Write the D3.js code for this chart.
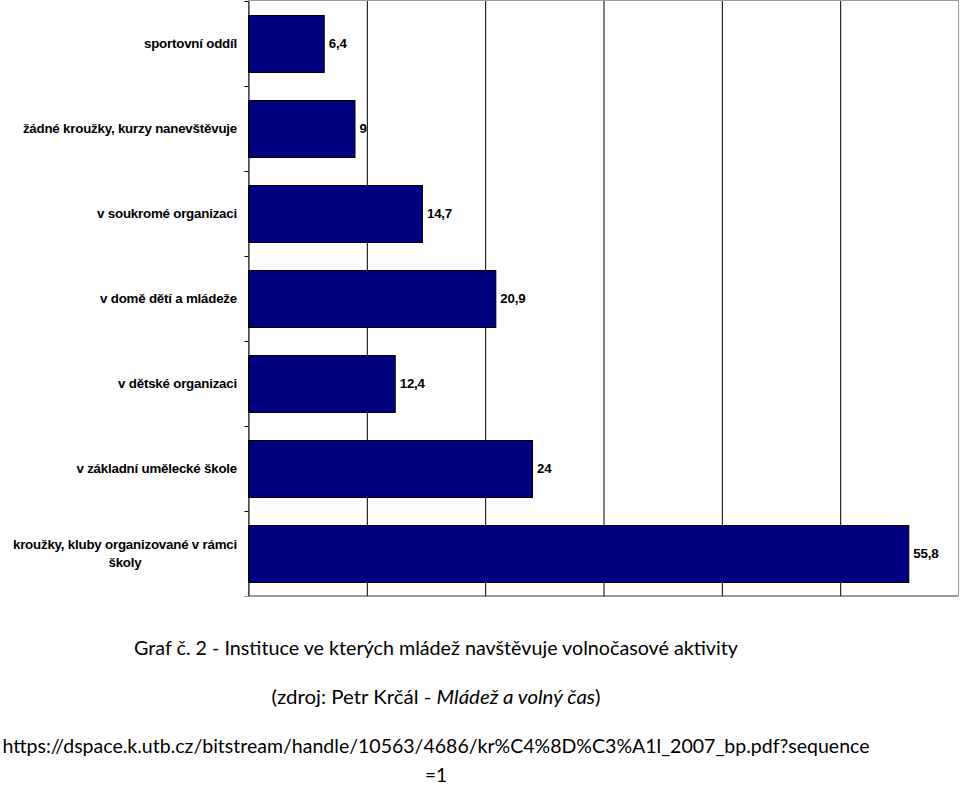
<!DOCTYPE html>
<html>
<head>
<meta charset="utf-8">
<script src="https://cdn.jsdelivr.net/npm/d3@7"></script>
<style>
  html, body { margin: 0; padding: 0; background: #fff; }
  svg { display: block; }
</style>
</head>
<body>
<svg id="chart" width="960" height="785"></svg>
<script>
const categories = [
  ["sportovní oddíl"],
  ["žádné kroužky, kurzy nanevštěvuje"],
  ["v soukromé organizaci"],
  ["v domě dětí a mládeže"],
  ["v dětské organizaci"],
  ["v základní umělecké škole"],
  ["kroužky, kluby organizované v rámci", "školy"]
];
const values = [6.4, 9, 14.7, 20.9, 12.4, 24, 55.8];
const valueLabels = ["6,4", "9", "14,7", "20,9", "12,4", "24", "55,8"];
const xTicks = [0, 10, 20, 30, 40, 50, 60];
const captionTitle = "Graf č. 2 - Instituce ve kterých mládež navštěvuje volnočasové aktivity";
const captionSource = ["(zdroj: Petr Krčál - ", "Mládež a volný čas", ")"];
const captionUrl = ["https://dspace.k.utb.cz/bitstream/handle/10563/4686/kr%C4%8D%C3%A1l_2007_bp.pdf?sequence", "=1"];

(function () {
const svg = d3.select("#chart");
const pl = 248, pr = 958, pt = 1, pb = 596;

const x = d3.scaleLinear().domain([0, 60]).range([pl, pr]);
const keys = categories.map((c, i) => i);
const y = d3.scaleBand().domain(keys).range([pt, pb]).paddingInner(0.33).paddingOuter(0.165);
const yEdge = d3.scaleLinear().domain([0, categories.length]).range([pt, pb]);

// plot border (gray)
svg.append("rect")
  .attr("x", pl + 0.5).attr("y", pt - 0.5)
  .attr("width", pr - pl).attr("height", pb - pt)
  .attr("fill", "none").attr("stroke", "#9a9a9a").attr("stroke-width", 1);

// gridlines
const grid = svg.append("g").attr("transform", `translate(0.5,${pb})`)
  .call(d3.axisBottom(x).tickValues(xTicks.slice(1, -1)).tickSize(-(pb - pt)).tickFormat(""));
grid.select(".domain").remove();
grid.selectAll(".tick line").attr("stroke", "#000").attr("stroke-width", 1);

// bars
svg.append("g").selectAll("rect").data(values).join("rect")
  .attr("x", x(0) + 0.5)
  .attr("y", (d, i) => Math.round(y(i)) + 0.5)
  .attr("width", d => x(d) - x(0))
  .attr("height", Math.round(y.bandwidth()))
  .attr("fill", "#000080")
  .attr("stroke", "#000")
  .attr("stroke-width", 1);

// left axis with ticks at band boundaries
const yAxis = svg.append("g").attr("transform", `translate(${pl + 0.5},0)`)
  .call(d3.axisLeft(yEdge).tickValues(d3.range(categories.length + 1)).tickSize(4).tickFormat("").tickSizeOuter(0));
yAxis.selectAll("path, line").attr("stroke", "#000");

// bottom axis line
svg.append("line")
  .attr("x1", pl - 4).attr("x2", pr)
  .attr("y1", pb + 0.5).attr("y2", pb + 0.5)
  .attr("stroke", "#9a9a9a");

const labFont = "Liberation Sans, Arial, sans-serif";
const labSize = 13.3;
const labSpacing = "-0.2px";

// value labels
svg.append("g").selectAll("text").data(values).join("text")
  .attr("x", d => x(d) + 5)
  .attr("y", (d, i) => y(i) + y.bandwidth() / 2)
  .attr("dy", "0.35em")
  .attr("font-family", labFont)
  .attr("font-weight", "bold")
  .attr("font-size", labSize)
  .attr("letter-spacing", labSpacing)
  .attr("fill", "#000")
  .text((d, i) => valueLabels[i]);

// category labels
const labelRight = 237;
const lineH = 18;
const catG = svg.append("g")
  .attr("font-family", labFont)
  .attr("font-weight", "bold")
  .attr("font-size", labSize)
  .attr("letter-spacing", labSpacing)
  .attr("fill", "#000");
categories.forEach((lines, i) => {
  const cy = y(i) + y.bandwidth() / 2;
  if (lines.length === 1) {
    catG.append("text").attr("x", labelRight).attr("y", cy).attr("dy", "0.35em")
      .attr("text-anchor", "end").text(lines[0]);
  } else {
    const t0 = catG.append("text").text(lines[0]);
    const w = t0.node().getComputedTextLength();
    const cx = labelRight - w / 2;
    t0.remove();
    lines.forEach((ln, j) => {
      catG.append("text").attr("x", cx)
        .attr("y", cy + (j - (lines.length - 1) / 2) * lineH).attr("dy", "0.35em")
        .attr("text-anchor", "middle").text(ln);
    });
  }
});

// captions
const capX = 436;
const capFont = "Lato, 'Open Sans', sans-serif";
svg.append("text").attr("x", capX).attr("y", 655).attr("text-anchor", "middle")
  .attr("font-family", capFont).attr("font-size", 19).attr("fill", "#000")
  .attr("textLength", 604).attr("lengthAdjust", "spacingAndGlyphs")
  .text(captionTitle);

const src = svg.append("text").attr("x", capX).attr("y", 704).attr("text-anchor", "middle")
  .attr("font-family", capFont).attr("font-size", 19).attr("fill", "#000")
  .attr("textLength", 329).attr("lengthAdjust", "spacingAndGlyphs");
src.append("tspan").text(captionSource[0]);
src.append("tspan").attr("font-style", "italic").text(captionSource[1]);
src.append("tspan").text(captionSource[2]);

svg.append("text").attr("x", capX).attr("y", 753).attr("text-anchor", "middle")
  .attr("font-family", capFont).attr("font-size", 19).attr("fill", "#000")
  .attr("textLength", 867).attr("lengthAdjust", "spacingAndGlyphs")
  .text(captionUrl[0]);
svg.append("text").attr("x", capX).attr("y", 782).attr("text-anchor", "middle")
  .attr("font-family", capFont).attr("font-size", 19).attr("fill", "#000")
  .text(captionUrl[1]);
})();
</script>
</body>
</html>
